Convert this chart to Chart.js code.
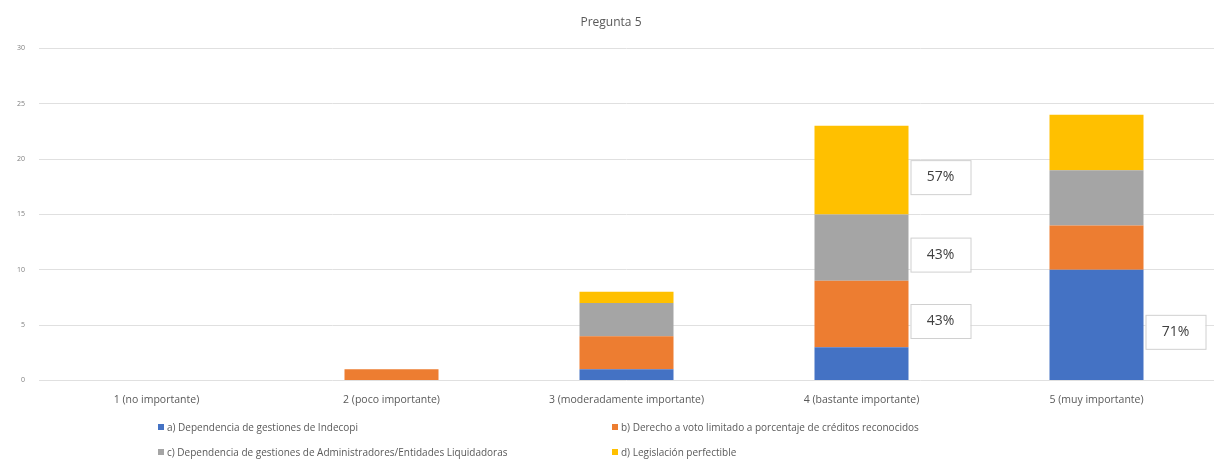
<!DOCTYPE html>
<html>
<head>
<meta charset="utf-8">
<script src="https://cdn.jsdelivr.net/npm/chart.js@4/dist/chart.umd.min.js"></script>
<style>
  body { margin: 0; background: #fff; }
  #wrap { position: relative; width: 1218px; height: 465px; }
  #legend {
    position: absolute; left: 158px; top: 420px;
    display: grid; grid-template-columns: 454px 460px; row-gap: 11px;
    font-family: "Open Sans", "Liberation Sans", sans-serif; font-size: 10px; color: #595959;
  }
  #legend span.box { display: inline-block; width: 6px; height: 6px; margin-right: 3px; vertical-align: 1px; }
</style>
</head>
<body>
<div id="wrap">
  <canvas id="chart" width="1218" height="465"></canvas>
  <div id="legend"></div>
</div>
<script>
const categories = ['1 (no importante)', '2 (poco importante)', '3 (moderadamente importante)', '4 (bastante importante)', '5 (muy importante)'];
const seriesNames = [
  'a) Dependencia de gestiones de Indecopi',
  'b) Derecho a voto limitado a porcentaje de créditos reconocidos',
  'c) Dependencia de gestiones de Administradores/Entidades Liquidadoras',
  'd) Legislación perfectible'
];
const valuesA = [0, 0, 1, 3, 10];
const valuesB = [0, 1, 3, 6, 4];
const valuesC = [0, 0, 3, 6, 5];
const valuesD = [0, 0, 1, 8, 5];
const pctA = [null, null, null, null, '71%'];
const pctB = [null, null, null, '43%', null];
const pctC = [null, null, null, '43%', null];
const pctD = [null, null, null, '57%', null];
const colors = ['#4472C4', '#ED7D31', '#A5A5A5', '#FFC000'];

const allValues = [valuesA, valuesB, valuesC, valuesD];
const allPct = [pctA, pctB, pctC, pctD];

// boxed percentage labels drawn to the right of a segment
const boxLabels = {
  id: 'boxLabels',
  afterDatasetsDraw(chart) {
    const ctx = chart.ctx;
    ctx.save();
    ctx.font = '14px "Open Sans", "Liberation Sans", sans-serif';
    ctx.textAlign = 'center';
    ctx.textBaseline = 'middle';
    chart.data.datasets.forEach((ds, i) => {
      const meta = chart.getDatasetMeta(i);
      meta.data.forEach((bar, j) => {
        const txt = allPct[i][j];
        if (!txt) return;
        const x = bar.x + bar.width / 2 + 2;
        const yc = (bar.y + bar.base) / 2 + 7;
        ctx.fillStyle = '#fff';
        ctx.fillRect(x, yc - 17, 60, 34);
        ctx.strokeStyle = '#d0d0d0';
        ctx.lineWidth = 1;
        ctx.strokeRect(x + 0.5, yc - 16.5, 60, 34);
        ctx.fillStyle = '#404040';
        ctx.fillText(txt, x + 30, yc);
      });
    });
    ctx.restore();
  }
};

const chart = new Chart(document.getElementById('chart'), {
  type: 'bar',
  data: {
    labels: categories,
    datasets: allValues.map((v, i) => ({
      label: seriesNames[i],
      data: v,
      backgroundColor: colors[i],
      barPercentage: 0.4,
      categoryPercentage: 1
    }))
  },
  options: {
    responsive: false,
    animation: false,
    layout: { padding: { left: 8, right: 4, top: 13, bottom: 54 } },
    plugins: {
      legend: { display: false },
      tooltip: { enabled: false },
      title: {
        display: true,
        text: 'Pregunta 5',
        color: '#595959',
        font: { family: '"Open Sans", "Liberation Sans", sans-serif', size: 12, weight: 'normal' },
        padding: { top: 2, bottom: 19 }
      }
    },
    scales: {
      x: {
        stacked: true,
        grid: { display: false },
        border: { display: false },
        ticks: { color: '#595959', padding: 5, font: { family: '"Open Sans", "Liberation Sans", sans-serif', size: 10.5 } }
      },
      y: {
        stacked: true,
        min: 0, max: 30,
        ticks: { stepSize: 5, color: '#7f7f7f', padding: 14, font: { family: '"Open Sans", "Liberation Sans", sans-serif', size: 7 } },
        grid: { color: '#e0e0e0', drawTicks: false },
        border: { display: false },
        afterFit(scale) { scale.width = 31; }
      }
    }
  },
  plugins: [boxLabels]
});

// legend laid out in two columns like the original
const legend = document.getElementById('legend');
seriesNames.forEach((name, i) => {
  const item = document.createElement('div');
  item.innerHTML = '<span class="box" style="background:' + colors[i] + '"></span>' + name;
  legend.appendChild(item);
});
</script>
</body>
</html>
